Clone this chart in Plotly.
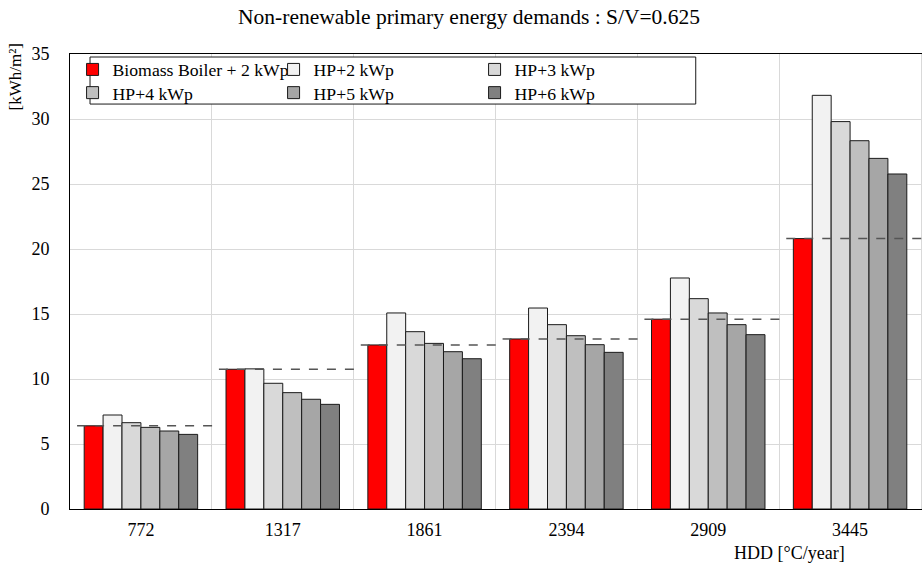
import plotly.graph_objects as go

HDD = ["772", "1317", "1861", "2394", "2909", "3445"]

BIOMASS_2KWP = [6.4, 10.75, 12.62, 13.08, 14.6, 20.8]
HP_2KWP = [7.23, 10.78, 15.08, 15.46, 17.77, 31.82]
HP_3KWP = [6.64, 9.67, 13.64, 14.18, 16.18, 29.8]
HP_4KWP = [6.28, 8.95, 12.74, 13.33, 15.08, 28.33]
HP_5KWP = [6.0, 8.44, 12.1, 12.64, 14.18, 26.97]
HP_6KWP = [5.74, 8.05, 11.56, 12.05, 13.41, 25.77]

SERIES = [
    ("Biomass Boiler + 2 kWp", BIOMASS_2KWP, "#FF0000", "legend"),
    ("HP+2 kWp", HP_2KWP, "#F2F2F2", "legend"),
    ("HP+3 kWp", HP_3KWP, "#D9D9D9", "legend"),
    ("HP+4 kWp", HP_4KWP, "#BFBFBF", "legend2"),
    ("HP+5 kWp", HP_5KWP, "#A6A6A6", "legend2"),
    ("HP+6 kWp", HP_6KWP, "#808080", "legend2"),
]

FONT = "Liberation Serif, Times New Roman, serif"

fig = go.Figure()
for name, values, color, legend in SERIES:
    fig.add_bar(
        x=HDD,
        y=values,
        name=name,
        legend=legend,
        marker={"color": color, "line": {"color": "#1a1a1a", "width": 1}},
    )

# dashed reference line at the biomass level of each group
for i, level in enumerate(BIOMASS_2KWP):
    fig.add_shape(
        type="line",
        xref="x",
        yref="y",
        x0=i - 0.45,
        x1=i + 0.53,
        y0=level,
        y1=level,
        line={"color": "#555555", "width": 1.5, "dash": "dash"},
        layer="above",
    )

# legend frame
fig.add_shape(
    type="rect",
    xref="paper",
    yref="paper",
    x0=0.0234,
    x1=0.731,
    y0=0.89,
    y1=0.9934,
    fillcolor="white",
    line={"color": "#1a1a1a", "width": 1},
    layer="above",
)

legend_common = {
    "orientation": "h",
    "xanchor": "left",
    "yanchor": "middle",
    "x": 0.003,
    "bgcolor": "rgba(0,0,0,0)",
    "borderwidth": 0,
    "entrywidth": 156,
    "font": {"size": 17.7, "color": "black", "family": FONT},
    "tracegroupgap": 0,
}

fig.update_layout(
    width=926,
    height=563,
    barmode="group",
    bargap=0.2,
    bargroupgap=0,
    paper_bgcolor="white",
    plot_bgcolor="white",
    margin={"l": 70, "r": 0, "t": 54, "b": 54},
    font={"family": FONT, "color": "black", "size": 18},
    title={
        "text": "Non-renewable primary energy demands : S/V=0.625",
        "x": 0.5065,
        "xref": "container",
        "xanchor": "center",
        "y": 0.9716,
        "yanchor": "middle",
        "font": {"size": 21.5, "family": FONT, "color": "black"},
    },
    legend={**legend_common, "y": 0.965},
    legend2={**legend_common, "y": 0.914},
    xaxis={
        "type": "category",
        "tickson": "boundaries",
        "ticks": "",
        "showgrid": True,
        "gridcolor": "#D9D9D9",
        "showline": True,
        "linecolor": "black",
        "linewidth": 1,
        "mirror": True,
        "tickfont": {"size": 18},
        "ticklabelstandoff": 4,
    },
    yaxis={
        "range": [0, 35],
        "dtick": 5,
        "showgrid": True,
        "gridcolor": "#D9D9D9",
        "showline": True,
        "linecolor": "black",
        "linewidth": 1,
        "mirror": False,
        "zeroline": False,
        "ticks": "",
        "tickfont": {"size": 18},
        "ticklabelstandoff": 16,
    },
    annotations=[
        {
            "text": "[kWh/m²]",
            "xref": "paper",
            "yref": "paper",
            "x": -0.064,
            "y": 0.949,
            "xanchor": "center",
            "yanchor": "middle",
            "textangle": -90,
            "showarrow": False,
            "font": {"size": 17},
        },
        {
            "text": "HDD [°C/year]",
            "xref": "paper",
            "yref": "paper",
            "x": 0.841,
            "y": -0.0967,
            "xanchor": "center",
            "yanchor": "middle",
            "showarrow": False,
            "font": {"size": 18},
        },
    ],
)

fig.write_html(
    "out.html",
    config={"displayModeBar": False, "responsive": False},
    post_script="document.body.style.margin='0';document.body.style.overflow='hidden';",
)
